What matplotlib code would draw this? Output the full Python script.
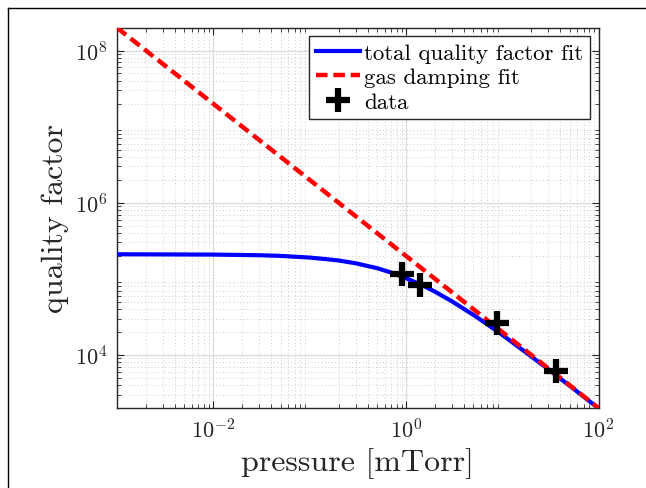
import numpy as np
import matplotlib
matplotlib.use("Agg")
import matplotlib.pyplot as plt
from matplotlib.lines import Line2D

# fitted curves
pressure_fit = [1e-3, 1e-2, 3e-2, 5e-2, 0.1, 0.15, 0.2, 0.3, 0.5, 0.7, 1.0, 1.5,
                2.0, 3.0, 5.0, 7.0, 10.0, 20.0, 30.0, 50.0, 100.0]
q_total_fit = [2.10e5, 2.08e5, 2.04e5, 2.00e5, 1.90e5, 1.81e5, 1.74e5, 1.60e5,
               1.38e5, 1.21e5, 1.02e5, 8.16e4, 6.77e4, 5.06e4, 3.36e4, 2.52e4,
               1.83e4, 9.55e3, 6.46e3, 3.93e3, 1.98e3]
pressure_gas = [1e-3, 1e2]
q_gas_fit = [2e8, 2e3]

# measured points
pressure_data = [0.90, 1.40, 8.9, 36.0]
q_data = [1.14e5, 8.2e4, 2.6e4, 6.2e3]

labels = ["total quality factor fit", "gas damping fit", "data"]

plt.rcParams["font.family"] = "serif"
plt.rcParams["font.serif"] = ["cmr10"]
plt.rcParams["mathtext.fontset"] = "cm"
plt.rcParams["axes.formatter.use_mathtext"] = True

fig = plt.figure(figsize=(6.46, 4.89), dpi=100)
ax = fig.add_axes([0.1811, 0.1636, 0.9265 - 0.1811, 0.9413 - 0.1636])

ax.plot(pressure_fit, q_total_fit, color="#0000ff", lw=3, label=labels[0], zorder=3)
ax.plot(pressure_gas, q_gas_fit, color="#ff0000", lw=3.2, dashes=(2.6, 1.3),
        label=labels[1], zorder=4)
ax.plot(pressure_data, q_data, ls="none", marker="+", ms=17, mew=4.5,
        color="black", label=labels[2], zorder=5)

ax.set_xscale("log")
ax.set_yscale("log")
ax.set_xlim(1e-3, 1e2)
ax.set_ylim(2e3, 2e8)
ax.set_xticks([1e-2, 1e0, 1e2])
ax.set_yticks([1e4, 1e6, 1e8])

ax.grid(True, which="major", color="#dadada", lw=0.9, ls="-")
ax.grid(True, which="minor", color="#cccccc", lw=0.7, ls=(0, (1, 2.5)))
ax.set_axisbelow(True)

for s in ax.spines.values():
    s.set_color("#262626")
    s.set_linewidth(1.0)
ax.tick_params(which="both", direction="in", top=True, right=True, colors="#262626")
ax.tick_params(which="major", length=5, labelsize=16, labelcolor="#262626", pad=7)
ax.tick_params(which="minor", length=3)

ax.set_xlabel("pressure [mTorr]", fontsize=23, color="#262626", labelpad=4)
ax.set_ylabel("quality factor", fontsize=23, color="#262626", labelpad=4)

leg = ax.legend(loc="upper right", fontsize=16.5, frameon=True, fancybox=False,
                framealpha=1, edgecolor="#262626", borderaxespad=0.35,
                handlelength=1.9, handletextpad=0.2, labelspacing=0.2,
                borderpad=0.3)
leg.get_frame().set_linewidth(1.0)

# outer figure frame (partly cut off in the reference)
fig.add_artist(Line2D([7.5 / 646, 7.5 / 646], [0, 1 - 8.5 / 489],
                      transform=fig.transFigure, color="black", lw=1))
fig.add_artist(Line2D([7.5 / 646, 1], [1 - 8.5 / 489, 1 - 8.5 / 489],
                      transform=fig.transFigure, color="black", lw=1))

fig.savefig("out.png", dpi=100)
